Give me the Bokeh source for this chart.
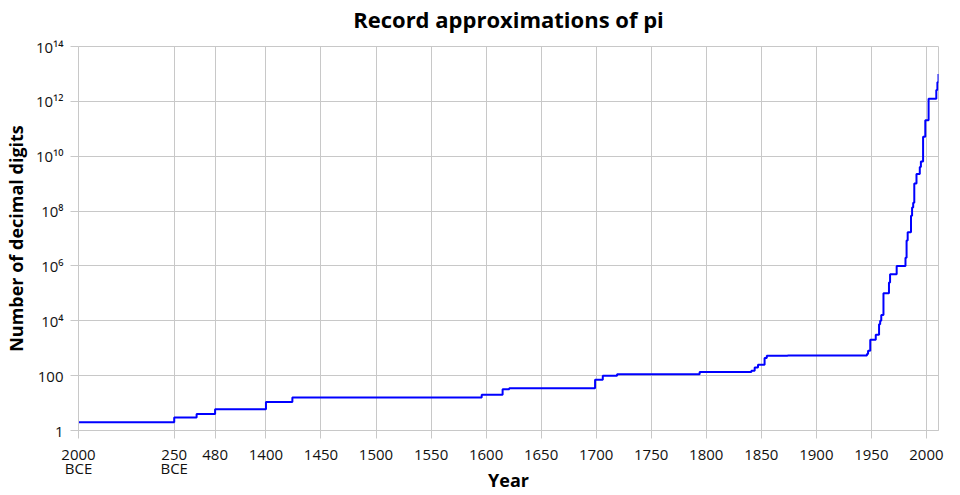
import numpy as np
from bokeh.plotting import figure
from bokeh.models import FixedTicker, Range1d, LinearAxis
from bokeh.embed import file_html
from bokeh.resources import INLINE

# ---- data (year; negative = BCE) ----
years = [-2000, -250, 150, 480, 1400, 1424, 1596, 1615, 1621, 1699, 1706, 1719,
         1794, 1841, 1844, 1847, 1853, 1855, 1874, 1946, 1947, 1949, 1954, 1957,
         1958, 1959, 1961, 1966, 1967, 1973, 1981, 1982, 1983, 1986, 1987, 1988,
         1989, 1991, 1994, 1995, 1997, 1999, 2002, 2009, 2010, 2011]
digits = [2, 3, 4, 6, 11, 16, 20, 32, 35, 71, 100, 112,
          136, 152, 200, 248, 440, 527, 540, 620, 808, 2037, 3092, 7480,
          10000, 16167, 100265, 250000, 500000, 1001250, 2000036, 8388576,
          16777206, 67108839, 134214700, 201326551,
          1011196691, 2260000000, 4044000000, 6442450000, 51539600000,
          206158430000, 1241100000000, 2576980377524, 5000000000000,
          10000000000000]

x_tick_years = [-2000, -250, 480, 1400, 1450, 1500, 1550, 1600, 1650, 1700,
                1750, 1800, 1850, 1900, 1950, 2000]
x_tick_labels = ["2000\nBCE", "250\nBCE", "480", "1400", "1450", "1500", "1550",
                 "1600", "1650", "1700", "1750", "1800", "1850", "1900", "1950",
                 "2000"]
y_ticks = [1, 100, 10**4, 10**6, 10**8, 10**10, 10**12, 10**14]
y_tick_labels = ["1", "100", "10\u2074", "10\u2076", "10\u2078", "10\u00b9\u2070",
                 "10\u00b9\u00b2", "10\u00b9\u2074"]
title_text = "Record approximations of pi"

# ---- piecewise year axis (early eras compressed, as in the original) ----
AXIS_YEARS = [-2000, -250, 480, 1400, 2011]
AXIS_POS = [0.0, 86.96, 124.1, 170.3, 170.3 + 611.0]


def xpos(year):
    return float(np.interp(year, AXIS_YEARS, AXIS_POS))


xs = [xpos(y) for y in years]
x_ticks = [xpos(y) for y in x_tick_years]

GRID = "#c8c8c8"
FONT = "Open Sans"

p = figure(width=956, height=494, y_axis_type="log",
           x_range=Range1d(0, xpos(2011)), y_range=Range1d(1, 1e14),
           output_backend="svg", toolbar_location=None)

p.step(xs, digits, mode="after", line_color="#0000ff", line_width=2)

xax = p.below[0]
yax = p.left[0]

xax.ticker = FixedTicker(ticks=x_ticks)
xax.major_label_overrides = {t: l for t, l in zip(x_ticks, x_tick_labels)}
yax.ticker = FixedTicker(ticks=y_ticks)
yax.major_label_overrides = {t: l for t, l in zip(y_ticks, y_tick_labels)}

for ax in (xax, yax):
    ax.axis_line_color = GRID
    ax.major_tick_line_color = GRID
    ax.major_tick_out = 8
    ax.major_tick_in = 0
    ax.minor_tick_line_color = None
    ax.major_label_text_font = FONT
    ax.major_label_text_font_size = "15px"
    ax.major_label_text_color = "#111111"
    ax.axis_label_text_font = FONT
    ax.axis_label_text_font_size = "18px"
    ax.axis_label_text_font_style = "bold"
    ax.axis_label_text_color = "black"

xax.axis_label = "Year"
yax.axis_label = "Number of decimal digits"
xax.major_label_text_line_height = 0.7
xax.major_label_standoff = 5
yax.major_label_standoff = 7
xax.axis_label_standoff = -13
yax.axis_label_standoff = 5

# title, drawn as the label of an empty axis above the frame for exact placement
top = LinearAxis(ticker=FixedTicker(ticks=[]), axis_label=title_text,
                 axis_line_color=None, major_tick_line_color=None,
                 minor_tick_line_color=None, major_tick_out=0, major_tick_in=0,
                 major_label_text_font_size="0px",
                 axis_label_text_font=FONT, axis_label_text_font_size="22px",
                 axis_label_text_font_style="bold", axis_label_text_color="black",
                 axis_label_standoff=13)
p.add_layout(top, "above")

p.xgrid.grid_line_color = GRID
p.ygrid.grid_line_color = GRID
p.ygrid.minor_grid_line_color = None
p.outline_line_color = GRID
p.background_fill_color = "white"
p.border_fill_color = "white"

p.min_border_left = 76
p.min_border_right = 18
p.min_border_top = 46
p.min_border_bottom = 64

open("out.html", "w").write(file_html(p, INLINE))
